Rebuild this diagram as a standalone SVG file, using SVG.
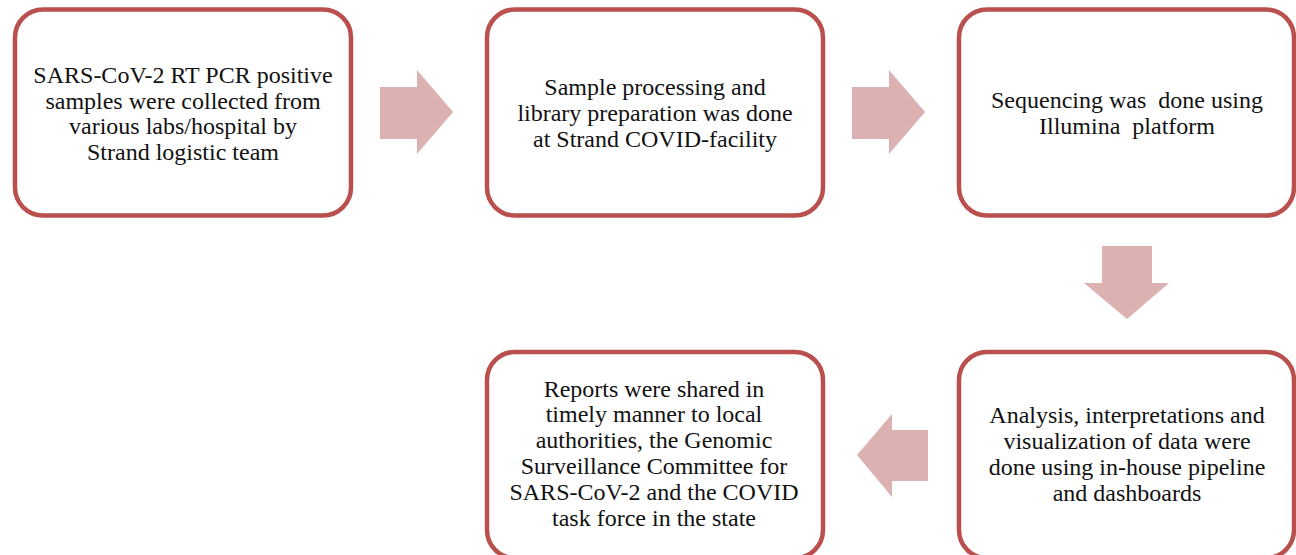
<svg xmlns="http://www.w3.org/2000/svg" width="1296" height="555" viewBox="0 0 1296 555">
<style>
.box{fill:#ffffff;stroke:#b9504d;stroke-width:4.5}
.arr{fill:#dcb1b1}
.t{font-family:"Liberation Serif","Times New Roman",serif;font-size:24px;fill:#111111;text-anchor:middle}
</style>
<rect width="1296" height="555" fill="#ffffff"/>
<g id="connectors">
<polygon class="arr" points="380,87 417,87 417,70 453,112 417,154 417,139 380,139"/>
<polygon class="arr" points="852,87 889,87 889,70 925,112 889,154 889,139 852,139"/>
<polygon class="arr" points="1102,246 1152,246 1152,283 1169,283 1127,319 1084,283 1102,283"/>
<polygon class="arr" points="928,430 892,430 892,414 857,455 892,497 892,481 928,481"/>
</g>
<g id="n1">
<rect class="box" x="15" y="9.5" width="336" height="206" rx="28"/>
<text class="t" x="183"><tspan x="183" y="83">SARS-CoV-2 RT PCR positive</tspan><tspan x="183" y="108.5">samples were collected from</tspan><tspan x="183" y="134">various labs/hospital by</tspan><tspan x="183" y="159.5">Strand logistic team</tspan></text>
</g>
<g id="n2">
<rect class="box" x="487" y="9.5" width="336" height="206" rx="28"/>
<text class="t"><tspan x="655" y="95">Sample processing and</tspan><tspan x="655" y="121">library preparation was done</tspan><tspan x="655" y="147">at Strand COVID-facility</tspan></text>
</g>
<g id="n3">
<rect class="box" x="959" y="9.5" width="335" height="206" rx="28"/>
<text class="t" xml:space="preserve"><tspan x="1127" y="108">Sequencing was  done using</tspan><tspan x="1127" y="134">Illumina  platform</tspan></text>
</g>
<g id="n4">
<rect class="box" x="959" y="352" width="335" height="206" rx="28"/>
<text class="t"><tspan x="1127" y="423">Analysis, interpretations and</tspan><tspan x="1127" y="449">visualization of data were</tspan><tspan x="1127" y="475">done using in-house pipeline</tspan><tspan x="1127" y="501">and dashboards</tspan></text>
</g>
<g id="n5">
<rect class="box" x="487" y="352" width="336" height="206" rx="28"/>
<text class="t"><tspan x="654" y="397">Reports were shared in</tspan><tspan x="654" y="422">timely manner to local</tspan><tspan x="654" y="448">authorities, the Genomic</tspan><tspan x="654" y="474">Surveillance Committee for</tspan><tspan x="654" y="500">SARS-CoV-2 and the COVID</tspan><tspan x="654" y="526">task force in the state</tspan></text>
</g>
</svg>
